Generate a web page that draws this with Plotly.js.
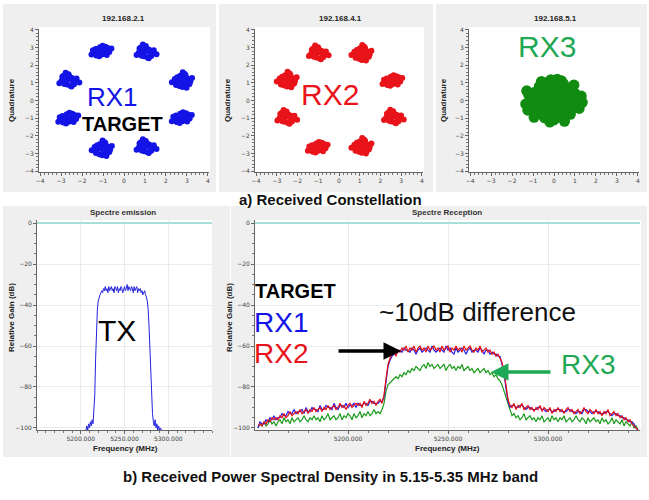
<!DOCTYPE html>
<html><head><meta charset="utf-8">
<script src="https://cdn.plot.ly/plotly-3.0.1.min.js"></script>
<style>html,body{margin:0;padding:0;background:#fff}#c{width:649px;height:500px}</style>
</head><body><div id="c"></div>
<script>
// ---------- Constellation data ----------
const rx1Centers = [[-1.1,2.8],[1.0,2.72],[2.78,1.12],[2.73,-0.97],[1.0,-2.65],[-1.04,-2.74],[-2.68,-1.0],[-2.68,1.12]];
const rx2Centers = [[-1.05,2.66],[1.1,2.66],[2.55,1.13],[2.57,-0.97],[1.1,-2.6],[-1.05,-2.65],[-2.57,-0.99],[-2.5,1.15]];
const pat1dx = [0,0.12,-0.12,0.25,-0.25,0.05,-0.05,0.18,-0.18,0.32,-0.32,0.08,-0.08,0.22,-0.22,0.4,-0.38,0.1,-0.15,0.28,0.5,-0.45];
const pat1dy = [0,0.08,-0.1,0.02,0.12,-0.2,0.22,-0.14,-0.04,0.18,-0.12,0.3,-0.3,0.25,-0.25,-0.05,0.05,0.12,0.1,-0.22,0.15,-0.2];
const pat2dx = [0.02,-0.1,0.14,-0.22,0.26,0.08,-0.04,-0.16,0.2,0.34,-0.3,0.12,-0.12,0.04,-0.26,0.42,-0.4,0.18,0.3,-0.2,0.55,-0.1];
const pat2dy = [0.05,-0.05,0.12,0.1,-0.08,0.24,-0.22,-0.18,0.16,0.02,-0.02,-0.28,0.3,0.36,0.22,0.12,-0.14,-0.32,-0.2,0.28,-0.1,0.45];
const pat3dx = [-0.05,0.1,-0.18,0.2,-0.28,0.3,0.06,-0.1,0.16,-0.24,0.38,-0.36,0.0,0.24,-0.14,0.12,0.46,-0.5,0.34,-0.3,0.02,0.2];
const pat3dy = [0.0,0.14,0.06,-0.12,-0.06,0.1,-0.26,0.28,0.3,0.2,-0.04,0.1,-0.36,-0.24,-0.3,0.38,0.16,-0.08,-0.18,-0.24,0.48,-0.4];
const rx3X = [0,0.4,0.2,-0.2,-0.4,-0.2,0.2,0.75,0.6,0.23,-0.23,-0.6,-0.75,-0.6,-0.23,0.23,0.6,
  1.1,1.0,0.8,0.45,0.05,-0.35,-0.7,-0.95,-1.1,-1.0,-0.8,-0.45,0,0.42,0.78,1.0,
  1.35,1.3,1.2,0.15,-0.15,-1.3,-1.35,-1.25,0.5,-0.2,0.35,-0.6,-0.95,0.95,-1.2,
  0.55,-0.55,0.9,-0.9,0.1,-0.1];
const rx3Y = [0,0,0.35,0.35,0,-0.35,-0.35,0,0.45,0.72,0.72,0.45,0,-0.45,-0.72,-0.72,-0.45,
  0.05,0.4,0.72,0.95,1.05,1.0,0.8,0.45,0.05,-0.35,-0.75,-0.98,-1.1,-1.0,-0.78,-0.4,
  -0.1,0.25,-0.45,1.2,1.18,0.55,-0.2,-0.55,-1.18,-1.22,1.12,1.08,-0.95,0.88,0.3,
  0.2,-0.2,-0.15,0.2,-0.55,0.6];

// ---------- Spectrum data (dB) ----------
const rxStart = 5155, rxStep = 1;
const rx2Gain = [
 -99,-98,-99,-97,-98,-96,-97,-95,-96,-95,
 -96,-94,-95,-93,-95,-94,-92,-94,-93,-92,
 -93,-91,-93,-92,-91,-93,-91,-92,-90,-92,
 -91,-90,-92,-90,-91,-89,-91,-90,-89,-91,
 -90,-88,-90,-89,-91,-89,-88,-90,-89,-88,
 -89,-88,-90,-87,-89,-88,-86,-88,-87,-89,
 -87,-86,-88,-84,-76,-69,-66,-64,-63,-65,
 -62,-63,-61,-62,-60,-63,-61,-62,-60,-63,
 -61,-60,-62,-61,-63,-60,-62,-61,-60,-62,
 -61,-63,-60,-62,-61,-60,-63,-61,-62,-60,
 -62,-61,-63,-60,-62,-61,-60,-62,-63,-61,
 -62,-60,-63,-62,-61,-63,-62,-64,-63,-65,
 -64,-66,-68,-72,-80,-86,-89,-90,-88,-91,
 -89,-90,-88,-91,-90,-89,-91,-90,-92,-90,
 -91,-89,-92,-90,-91,-92,-90,-93,-91,-92,
 -90,-92,-91,-93,-91,-90,-92,-91,-93,-92,
 -91,-93,-92,-90,-92,-93,-91,-92,-93,-91,
 -93,-92,-94,-92,-93,-91,-94,-93,-92,-94,
 -93,-95,-94,-96,-95,-97,-96,-98,-99,-100,
 -101];
const rx1Gain = [
 -100,-97,-98,-98,-96,-97,-95,-96,-94,-96,
 -95,-95,-93,-94,-94,-92,-93,-93,-91,-93,
 -92,-92,-91,-93,-90,-92,-92,-90,-91,-91,
 -92,-89,-91,-91,-89,-90,-90,-91,-88,-90,
 -91,-89,-89,-90,-88,-90,-89,-89,-88,-90,
 -88,-89,-89,-88,-88,-89,-87,-87,-88,-88,
 -88,-87,-87,-85,-78,-70,-67,-65,-64,-64,
 -63,-62,-63,-61,-62,-62,-63,-61,-62,-64,
 -62,-61,-63,-62,-61,-62,-63,-60,-62,-63,
 -62,-61,-62,-63,-60,-62,-61,-63,-64,-61,
 -63,-62,-61,-62,-64,-62,-61,-63,-62,-62,
 -63,-61,-62,-64,-62,-62,-64,-63,-64,-64,
 -65,-65,-69,-73,-81,-87,-90,-89,-89,-90,
 -90,-89,-89,-90,-91,-90,-90,-91,-91,-91,
 -90,-90,-91,-91,-92,-91,-91,-92,-92,-91,
 -91,-91,-92,-92,-92,-91,-91,-92,-92,-93,
 -92,-92,-93,-91,-91,-92,-92,-93,-92,-92,
 -92,-93,-93,-93,-92,-92,-93,-94,-93,-93,
 -94,-94,-95,-95,-96,-96,-97,-97,-98,-100,
 -101];
const rx3Gain = [
 -100,-98,-99,-97,-99,-98,-96,-98,-97,-99,
 -97,-96,-98,-95,-97,-96,-98,-95,-97,-96,
 -95,-97,-96,-94,-96,-97,-95,-96,-94,-96,
 -95,-97,-94,-96,-95,-93,-96,-95,-94,-96,
 -95,-93,-96,-94,-95,-93,-94,-96,-93,-95,
 -94,-92,-95,-93,-94,-92,-94,-93,-91,-93,
 -92,-93,-91,-88,-82,-79,-78,-77,-76,-75,
 -76,-74,-75,-73,-74,-72,-73,-71,-72,-70,
 -71,-72,-70,-69,-71,-68,-70,-69,-71,-70,
 -69,-71,-70,-69,-72,-70,-69,-71,-70,-72,
 -70,-71,-69,-72,-71,-70,-72,-71,-73,-72,
 -71,-73,-72,-71,-73,-72,-74,-73,-75,-74,
 -76,-77,-79,-82,-85,-89,-92,-94,-93,-95,
 -94,-96,-95,-93,-96,-95,-94,-96,-95,-97,
 -95,-96,-94,-97,-96,-95,-97,-94,-96,-95,
 -97,-95,-96,-94,-97,-96,-95,-97,-96,-94,
 -96,-97,-95,-96,-98,-95,-97,-96,-95,-97,
 -96,-98,-95,-97,-96,-98,-97,-95,-98,-96,
 -97,-98,-96,-99,-97,-98,-99,-97,-100,-99,
 -101];
const txStart = 5206, txStep = 1;
const txGain = [
 -101,-99,-101,-98,-100,-97,-99,-96,-98,-92,
 -84,-66,-50,-42,-38,-36,-35,-34,-33,-34,
 -32,-33,-31,-33,-32,-34,-31,-33,-32,-31,
 -33,-32,-34,-31,-32,-33,-31,-34,-32,-33,
 -31,-32,-34,-32,-31,-33,-32,-30,-33,-31,
 -32,-33,-31,-32,-34,-31,-33,-32,-31,-34,
 -32,-33,-32,-34,-33,-35,-34,-33,-35,-36,
 -38,-42,-50,-62,-75,-86,-93,-97,-99,-96,
 -100,-98,-101,-99,-101,-100,-101,-101];
const qTicks = [-4,-3,-2,-1,0,1,2,3,4];
const fTicks = [5200,5250,5300];
const fTickText = ['5200.000','5250.000','5300.000'];
const gTicks = [0,-20,-40,-60,-80,-100];

// ---------- build ----------
const W = 649, H = 500;
const px = v => v / W, py = v => 1 - v / H;
const pats = [[pat1dx,pat1dy],[pat2dx,pat2dy],[pat3dx,pat3dy]];
function cloud(centers, shift){
  const xs=[], ys=[];
  centers.forEach((c,i)=>{
    const p = pats[(i+shift)%3];
    for(let k=0;k<p[0].length;k++){ xs.push(c[0]+p[0][k]); ys.push(c[1]+p[1][k]); }
  });
  return [xs,ys];
}
const c1 = cloud(rx1Centers,0), c2 = cloud(rx2Centers,1);
const freqs = (start, step, n) => Array.from({length:n},(_,i)=>start+i*step);
const rxF = freqs(rxStart, rxStep, rx2Gain.length);
const txF = freqs(txStart, txStep, txGain.length);

const BLUE='#1414e6', RED='#e8141a', GREEN='#118c11', TGREEN='#1fa855';
const traces = [
  {x:c1[0], y:c1[1], xaxis:'x', yaxis:'y', type:'scatter', mode:'markers', marker:{color:BLUE, size:6}},
  {x:c2[0], y:c2[1], xaxis:'x2', yaxis:'y2', type:'scatter', mode:'markers', marker:{color:RED, size:6}},
  {x:rx3X, y:rx3Y, xaxis:'x3', yaxis:'y3', type:'scatter', mode:'markers', marker:{color:GREEN, size:11}},
  {x:txF, y:txGain, xaxis:'x4', yaxis:'y4', type:'scatter', mode:'lines', line:{color:'#2222dd', width:1}},
  {x:rxF, y:rx3Gain, xaxis:'x5', yaxis:'y5', type:'scatter', mode:'lines', line:{color:'#1a9a1a', width:1.2}},
  {x:rxF, y:rx1Gain, xaxis:'x5', yaxis:'y5', type:'scatter', mode:'lines', line:{color:'#2020ee', width:1.2}},
  {x:rxF, y:rx2Gain, xaxis:'x5', yaxis:'y5', type:'scatter', mode:'lines', line:{color:'#e81010', width:1.2}}
];

const base = {showline:true, linecolor:'#666', linewidth:1, ticks:'outside', ticklen:3, tickcolor:'#666',
  tickfont:{size:6, color:'#444', family:'DejaVu Sans, sans-serif'}, zeroline:false, showgrid:false, fixedrange:true};
function qx(d, anchor){ return Object.assign({}, base, {domain:d, anchor:anchor, range:[-4.05,4.05], tickvals:qTicks,
  minor:{ticks:'outside', ticklen:2, dtick:0.2, tickcolor:'#777'}}); }
function qy(d, anchor){ return Object.assign({}, base, {domain:d, anchor:anchor, range:[-4.05,4.05], tickvals:qTicks,
  minor:{ticks:'outside', ticklen:2, dtick:0.2, tickcolor:'#777'}}); }
function fx(d, anchor, r){ return Object.assign({}, base, {domain:d, anchor:anchor, range:r, tickvals:fTicks, ticktext:fTickText,
  showgrid:true, gridcolor:'#ececec', minor:{ticks:'outside', ticklen:2, dtick:10, tickcolor:'#777'}}); }
function gy(d, anchor){ return Object.assign({}, base, {domain:d, anchor:anchor, range:[-101,1.5], tickvals:gTicks,
  showgrid:true, gridcolor:'#ececec', minor:{ticks:'outside', ticklen:2, dtick:5, tickcolor:'#777'}}); }

const topY = [py(172), py(29)];
const botY = [py(430), py(220)];
const FONT = 'Liberation Sans, Arial, sans-serif';
function txt(x,y,text,size,color,bold,extra){
  return Object.assign({xref:'paper', yref:'paper', x:px(x), y:py(y), text: bold?'<b>'+text+'</b>':text, showarrow:false,
    xanchor:'center', yanchor:'middle', font:{family:FONT, size:size, color:color}}, extra||{});
}
function arrow(x0,y0,x1,y1,color){
  return {xref:'paper', yref:'paper', axref:'pixel', ayref:'pixel', x:px(x1), y:py(y1), ax:x0-x1, ay:y0-y1,
    text:'', showarrow:true, arrowhead:2, arrowsize:1, arrowwidth:3.5, arrowcolor:color};
}
const annotations = [
  txt(123,18,'192.168.2.1',8,'#222',true),
  txt(340,18,'192.168.4.1',8,'#222',true),
  txt(555,18,'192.168.5.1',8,'#222',true),
  txt(12,100,'Quadrature',8,'#222',true,{textangle:-90}),
  txt(228,100,'Quadrature',8,'#222',true,{textangle:-90}),
  txt(444,100,'Quadrature',8,'#222',true,{textangle:-90}),
  txt(112,97,'RX1',26,BLUE,false),
  txt(122,124,'TARGET',20,'#000',true),
  txt(330,95,'RX2',30,RED,false),
  txt(547,47,'RX3',30,TGREEN,false),
  txt(330,199,'a) Received Constellation',15,'#111',true),
  txt(123,213,'Spectre emission',8,'#333',true),
  txt(447,213,'Spectre Reception',8,'#333',true),
  txt(11,318,'Relative Gain (dB)',8,'#222',true,{textangle:-90}),
  txt(229,318,'Relative Gain (dB)',8,'#222',true,{textangle:-90}),
  txt(125,448,'Frequency (MHz)',8,'#222',true),
  txt(447,448,'Frequency (MHz)',8,'#222',true),
  txt(117,330,'TX',30,'#000',false),
  txt(253,291,'TARGET',20,'#000',true,{xanchor:'left'}),
  txt(252,322,'RX1',28,BLUE,false,{xanchor:'left'}),
  txt(252,353,'RX2',28,RED,false,{xanchor:'left'}),
  txt(477,312,'~10dB difference',26,'#111',false),
  txt(588,364,'RX3',28,TGREEN,false),
  txt(330,476,'b) Received Power Spectral Density in 5.15-5.35 MHz band',15,'#111',true),
  arrow(337,351,401,351,'#000'),
  arrow(552,372,491,372,'#1fa855')
];
function rect(x0,y0,x1,y1,fill){ return {type:'rect', xref:'paper', yref:'paper', x0:px(x0), x1:px(x1), y0:py(y1), y1:py(y0),
  fillcolor:fill, line:{width:0}, layer:'below'}; }
const shapes = [
  rect(3,4,216,192,'#efefef'), rect(219,4,433,192,'#efefef'), rect(436,4,647,192,'#efefef'),
  rect(3,206,230,457,'#efefef'), rect(231,206,647,457,'#efefef'),
  rect(39,27,210,173,'#ffffff'), rect(255,27,424,173,'#ffffff'), rect(469,27,640,173,'#ffffff'),
  rect(37,220,212,430,'#ffffff'), rect(255,220,641,430,'#ffffff'),
  {type:'line', xref:'x4 domain', yref:'y4', x0:0, x1:1, y0:0, y1:0, line:{color:'#8fd8cf', width:1.5}},
  {type:'line', xref:'x5 domain', yref:'y5', x0:0, x1:1, y0:0, y1:0, line:{color:'#8fd8cf', width:1.5}}
];

const layout = {
  width:W, height:H, margin:{l:0,r:0,t:0,b:0}, showlegend:false,
  paper_bgcolor:'#ffffff', plot_bgcolor:'rgba(0,0,0,0)',
  xaxis: qx([px(39),px(209)],'y'), yaxis: qy(topY,'x'),
  xaxis2: qx([px(255),px(423)],'y2'), yaxis2: qy(topY,'x2'),
  xaxis3: qx([px(469),px(639)],'y3'), yaxis3: qy(topY,'x3'),
  xaxis4: fx([px(37),px(212)],'y4',[5150,5350]), yaxis4: gy(botY,'x4'),
  xaxis5: fx([px(255),px(640)],'y5',[5153.5,5346]), yaxis5: gy(botY,'x5'),
  annotations: annotations, shapes: shapes
};
Plotly.newPlot('c', traces, layout, {displayModeBar:false, staticPlot:true});
</script></body></html>
